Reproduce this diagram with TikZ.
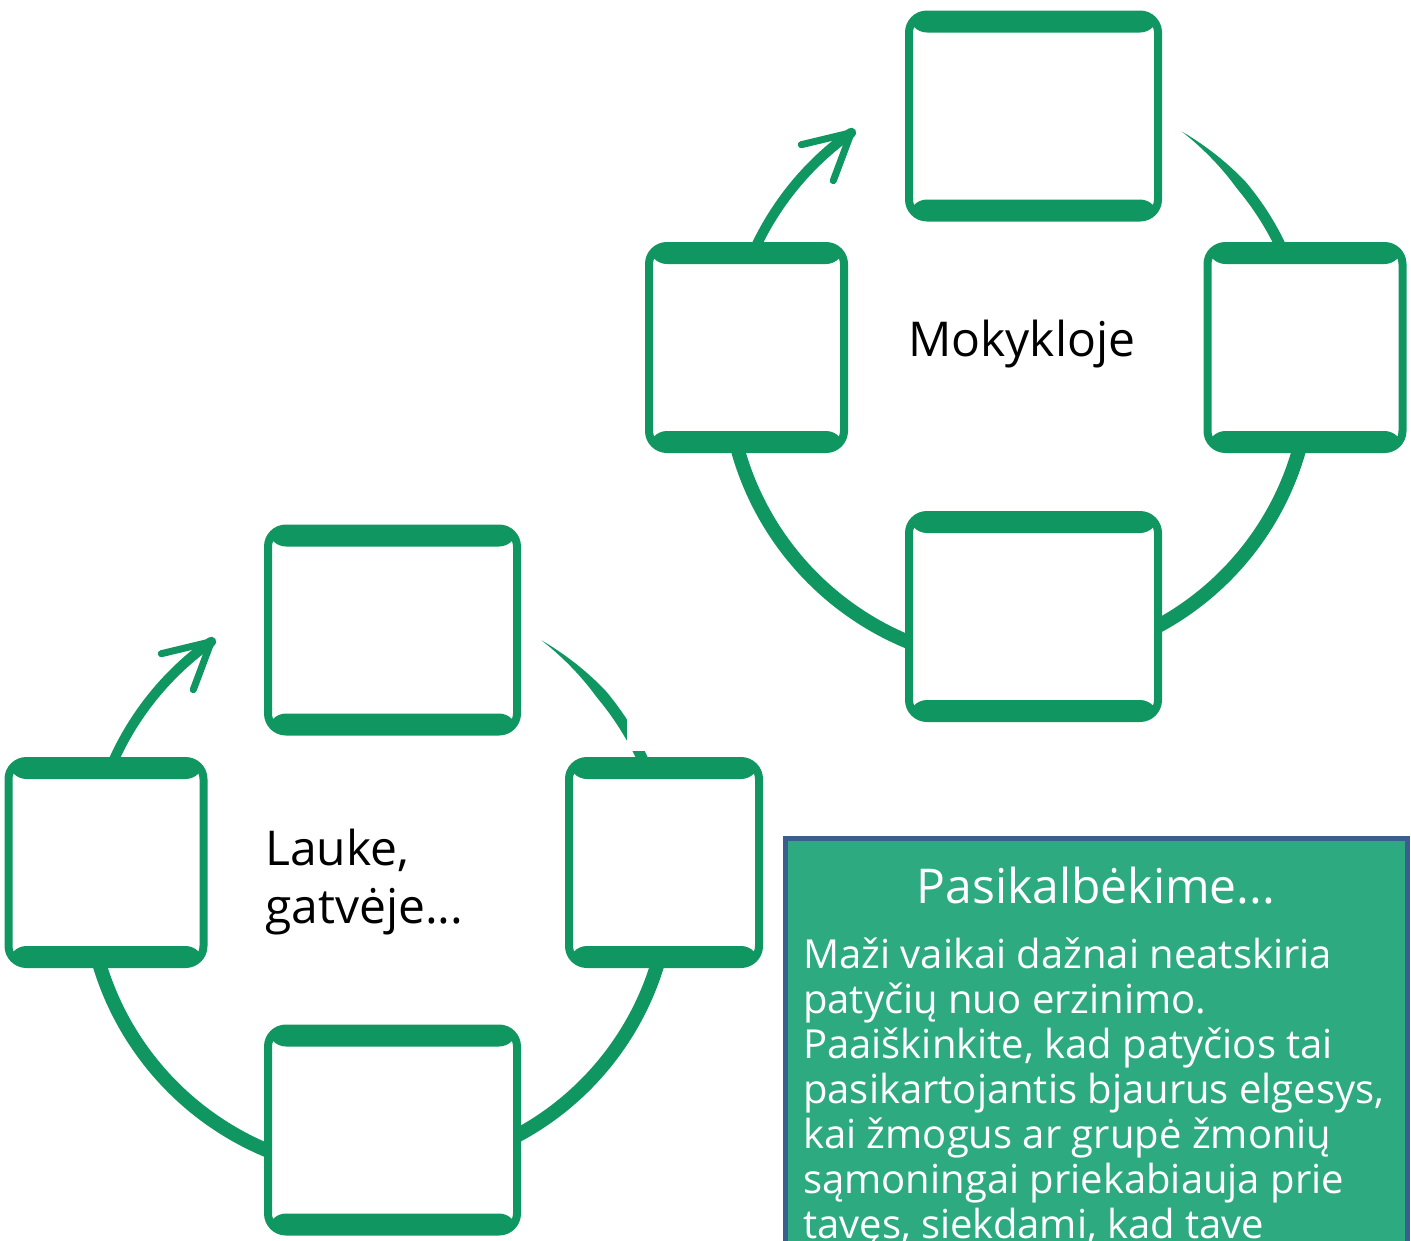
\documentclass[tikz,border=0pt]{standalone}
\usepackage{fontspec}
\setmainfont{Open Sans}
\usetikzlibrary{calc}
\definecolor{brush}{RGB}{16,150,96}
\definecolor{talkfill}{RGB}{46,170,128}
\definecolor{talkborder}{RGB}{58,95,140}
\tikzset{
  brushbox/.style={draw=brush, line width=8pt, fill=white, rounded corners=18pt, inner sep=0pt,
    path picture={
      \fill[brush] (path picture bounding box.north west) rectangle ([yshift=-18pt]path picture bounding box.north east);
      \fill[brush] (path picture bounding box.south west) rectangle ([yshift=18pt]path picture bounding box.south east);
    }},
  widebox/.style={brushbox, minimum width=249pt, minimum height=203pt},
  narrowbox/.style={brushbox, minimum width=195pt, minimum height=203pt},
  ringline/.style={draw=brush, line width=14pt},
  arrowline/.style={draw=brush, line width=10pt, line cap=round},
  barb/.style={draw=brush, line width=7pt, line cap=round},
  bigtext/.style={font=\fontsize{48}{58}\selectfont, inner sep=0pt},
  ring/.pic={
    \coordinate (-c) at (0,0);
    % tapered upper-right arc (thin start, widening)
    \coordinate (-t1) at (56:289pt);
    \fill[brush] plot[domain=20:56, samples=40, smooth] (\x:{(289 + 5.5*min(1,(56-\x)/16))*1pt})
      -- plot[domain=56:20, samples=40, smooth] (\x:{(289 - 5.5*min(1,(56-\x)/16))*1pt}) -- cycle;
    % lower-right arc
    \coordinate (-b1) at (-10:290pt);
    \draw[ringline] (-b1) arc[start angle=-10, end angle=-70, radius=290pt];
    % lower-left arc
    \coordinate (-b2) at (-108:293pt);
    \draw[ringline] (-b2) arc[start angle=-108, end angle=-172, radius=293pt];
    % arrow
    \coordinate (-s) at (162:292pt);
    \coordinate (-tip) at (125.3:292pt);
    \draw[arrowline] (-s) arc[start angle=162, end angle=125.3, radius=292pt];
    \draw[barb] (-tip) -- ++(-50pt,-12pt);
    \draw[barb] (-tip) -- ++(-18pt,-48pt);
  }
}
\begin{document}
\begin{tikzpicture}[x=1pt,y=1pt]
\useasboundingbox (0,0) rectangle (1411,-1240);
\clip (0,0) rectangle (1411,-1240);

% ---------- right cluster: Mokykloje ----------
\pic (R) at (1020,-371) {ring};
\node[widebox]   (Rtop)    at (1033.5,-116)   {};
\node[narrowbox] (Rleft)   at (746.5,-347.5)  {};
\node[narrowbox] (Rright)  at (1305,-347.5)   {};
\node[widebox]   (Rbottom) at (1033.5,-616.5) {};
\node[bigtext, anchor=base west] (Rlabel) at (908,-356) {Mokykloje};

% ---------- left cluster: Lauke, gatvėje... ----------
\pic (L) at (380,-880) {ring};
\fill[white] (627,-688) rectangle (700,-751);
\node[widebox]   (Ltop)    at (392.5,-630)  {};
\node[narrowbox] (Lleft)   at (106,-862.5)  {};
\node[narrowbox, minimum width=190pt] (Lright) at (664,-862.5) {};
\node[widebox]   (Lbottom) at (392.5,-1130) {};
\node[bigtext, anchor=base west] (Llabel) at (265,-865)
  {\parbox[t]{300pt}{\raggedright Lauke,\\gatvėje...}};

% ---------- discussion box ----------
\node[draw=talkborder, line width=5pt, fill=talkfill, anchor=north west,
      minimum width=622pt, minimum height=470pt, inner sep=0pt] (talk) at (782.5,-835.5) {};
\node[bigtext, text=white, anchor=base] (title) at ($(talk.north)+(0,-67.5pt)$) {Pasikalbėkime...};
\node[inner sep=0pt, text=white, anchor=base west, font=\fontsize{40}{45}\selectfont] (body) at (803,-968)
  {\parbox[t]{600pt}{\raggedright
   Maži vaikai dažnai neatskiria\\
   patyčių nuo erzinimo.\\
   Paaiškinkite, kad patyčios tai\\
   pasikartojantis bjaurus elgesys,\\
   kai žmogus ar grupė žmonių\\
   sąmoningai priekabiauja prie\\
   tavęs, siekdami, kad tave}};
\end{tikzpicture}
\end{document}
